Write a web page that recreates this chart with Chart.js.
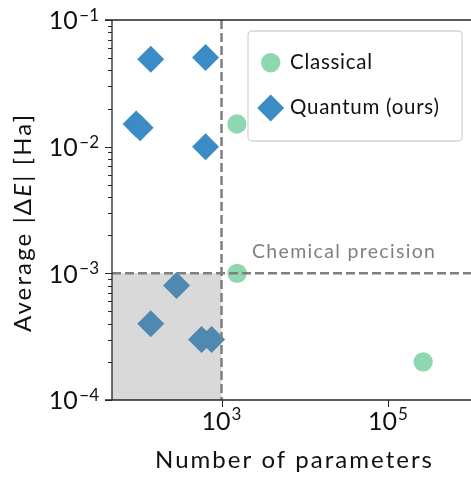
<!DOCTYPE html>
<html>
<head>
<meta charset="utf-8">
<script src="https://cdn.jsdelivr.net/npm/chart.js@4.4.1/dist/chart.umd.min.js"></script>
<style>
    html, body { margin: 0; padding: 0; background: #fff; }
    #wrap { width: 471px; height: 477px; }
</style>
</head>
<body>
<div id="wrap"><canvas id="chart" width="471" height="477"></canvas></div>
<script>
// Number of parameters vs. average |dE| (Ha)
const classicalParams = [1530, 1540, 266000];
const classicalError = [0.0151, 0.001, 0.0002];

const quantumParams = [141, 643, 94, 105, 643, 288, 141, 575, 760];
const quantumError = [0.049, 0.0505, 0.0151, 0.0141, 0.01, 0.0008, 0.0004, 0.0003, 0.0003];

const xTickValues = [1e3, 1e5];
const xTickExp = ['3', '5'];
const yTickValues = [1e-4, 1e-3, 1e-2, 1e-1];
const yTickExp = ['\u22124', '\u22123', '\u22122', '\u22121'];
const yMinorMult = [2, 3, 4, 5, 6, 7, 8, 9];

const chemicalPrecision = 1e-3;
const paramLimit = 1e3;

const FONT = 'Lato, "Noto Sans", sans-serif';
const blue = '#3a8bc6';
const green = '#8fd7b0';
const lineGrey = '#7f7f7f';
const spine = '#262626';

const toPoints = (xs, ys) => xs.map((v, i) => ({ x: v, y: ys[i] }));

// the original font is wider than Lato, so spread letters to hit the measured width
function spacingFor(ctx, text, width) {
    ctx.letterSpacing = '0px';
    const w = ctx.measureText(text).width;
    return Math.max(0, (width - w) / Math.max(1, text.length - 1));
}

function drawSpread(ctx, text, x, y, width) {
    const s = spacingFor(ctx, text, width);
    ctx.letterSpacing = s + 'px';
    ctx.fillText(text, x, y);
    ctx.letterSpacing = '0px';
}

const decorations = {
    id: 'decorations',
    afterDatasetsDraw(chart) {
        const { ctx, chartArea, scales: { x, y } } = chart;
        const xr = x.getPixelForValue(paramLimit);
        const yc = y.getPixelForValue(chemicalPrecision);
        ctx.save();
        // shaded region below chemical precision
        ctx.fillStyle = 'rgba(128,128,128,0.3)';
        ctx.fillRect(chartArea.left, yc, xr - chartArea.left, chartArea.bottom - yc);

        // dashed guide lines
        ctx.strokeStyle = lineGrey;
        ctx.lineWidth = 2.5;
        ctx.setLineDash([9, 4]);
        ctx.beginPath();
        ctx.moveTo(xr, chartArea.top);
        ctx.lineTo(xr, chartArea.bottom);
        ctx.moveTo(chartArea.left, yc);
        ctx.lineTo(chartArea.right, yc);
        ctx.stroke();
        ctx.setLineDash([]);

        ctx.fillStyle = '#808080';
        ctx.font = '19.5px ' + FONT;
        ctx.textAlign = 'left';
        ctx.textBaseline = 'alphabetic';
        drawSpread(ctx, 'Chemical precision', 252, yc - 15.5, 183);
        ctx.restore();
    },
    afterDraw(chart) {
        const { ctx, chartArea, scales: { x, y } } = chart;
        ctx.save();

        // spines: left, bottom, top
        ctx.strokeStyle = spine;
        ctx.lineWidth = 1.3;
        ctx.beginPath();
        ctx.moveTo(chartArea.left, chartArea.top);
        ctx.lineTo(chartArea.left, chartArea.bottom);
        ctx.moveTo(chartArea.left - 7, chartArea.bottom);
        ctx.lineTo(chartArea.right, chartArea.bottom);
        ctx.moveTo(chartArea.left - 7, chartArea.top);
        ctx.lineTo(chartArea.right, chartArea.top);
        ctx.stroke();

        // y ticks, major and minor
        ctx.lineWidth = 1;
        ctx.beginPath();
        yTickValues.forEach((v, i) => {
            const py = Math.round(y.getPixelForValue(v)) + 0.5;
            ctx.moveTo(chartArea.left - 7, py);
            ctx.lineTo(chartArea.left, py);
            if (i < yTickValues.length - 1) {
                yMinorMult.forEach(m => {
                    const pm = Math.round(y.getPixelForValue(v * m)) + 0.5;
                    ctx.moveTo(chartArea.left - 4, pm);
                    ctx.lineTo(chartArea.left, pm);
                });
            }
        });
        // x ticks
        xTickValues.forEach(v => {
            const px = Math.round(x.getPixelForValue(v)) + 0.5;
            ctx.moveTo(px, chartArea.bottom);
            ctx.lineTo(px, chartArea.bottom + 7);
        });
        ctx.stroke();

        // tick labels
        ctx.fillStyle = '#111';
        ctx.textBaseline = 'alphabetic';
        const big = '25px ' + FONT;
        const small = '17px ' + FONT;
        yTickValues.forEach((v, i) => {
            const py = y.getPixelForValue(v);
            ctx.font = small;
            const ew = ctx.measureText(yTickExp[i]).width;
            ctx.textAlign = 'right';
            ctx.fillText(yTickExp[i], 99, py + 1);
            ctx.font = big;
            ctx.fillText('10', 99 - ew - 1.5, py + 9.3);
        });
        xTickValues.forEach((v, i) => {
            const px = x.getPixelForValue(v);
            ctx.font = big;
            const bw = ctx.measureText('10').width;
            ctx.font = small;
            const ew = ctx.measureText(xTickExp[i]).width;
            const start = px - (bw + ew + 1) / 2;
            ctx.textAlign = 'left';
            ctx.font = big;
            ctx.fillText('10', start, 430);
            ctx.font = small;
            ctx.fillText(xTickExp[i], start + bw + 1, 420);
        });

        // axis titles
        ctx.font = '24px ' + FONT;
        ctx.textAlign = 'left';
        drawSpread(ctx, 'Number of parameters', 155, 468, 277);

        ctx.translate(31, 332);
        ctx.rotate(-Math.PI / 2);
        const parts = [
            ['Average |\u0394', '24px ' + FONT],
            ['E', 'italic 24px ' + FONT],
            ['| [Ha]', '24px ' + FONT]
        ];
        let total = 0, chars = 0;
        parts.forEach(p => { ctx.font = p[1]; total += ctx.measureText(p[0]).width; chars += p[0].length; });
        const gap = Math.max(0, (217 - total) / (chars - 1));
        ctx.letterSpacing = gap + 'px';
        let cx = 0;
        parts.forEach(p => {
            ctx.font = p[1];
            ctx.fillText(p[0], cx, 0);
            cx += ctx.measureText(p[0]).width;
        });
        ctx.letterSpacing = '0px';
        ctx.setTransform(1, 0, 0, 1, 0, 0);

        // legend
        const lx = 248, ly = 31, lw = 214, lh = 110;
        ctx.beginPath();
        ctx.roundRect(lx, ly, lw, lh, 4);
        ctx.fillStyle = 'rgba(255,255,255,0.85)';
        ctx.fill();
        ctx.strokeStyle = '#d4d4d4';
        ctx.lineWidth = 1.3;
        ctx.stroke();

        ctx.fillStyle = green;
        ctx.beginPath();
        ctx.arc(270.7, 62.7, 9.7, 0, Math.PI * 2);
        ctx.fill();

        ctx.fillStyle = blue;
        ctx.beginPath();
        ctx.moveTo(270.7, 108 - 13.5);
        ctx.lineTo(270.7 + 13.5, 108);
        ctx.lineTo(270.7, 108 + 13.5);
        ctx.lineTo(270.7 - 13.5, 108);
        ctx.closePath();
        ctx.fill();

        ctx.fillStyle = '#111';
        ctx.font = '20.5px ' + FONT;
        ctx.textAlign = 'left';
        ctx.textBaseline = 'alphabetic';
        drawSpread(ctx, 'Classical', 290, 69.3, 82);
        drawSpread(ctx, 'Quantum (ours)', 290, 114, 149);
        ctx.restore();
    }
};

new Chart(document.getElementById('chart'), {
    type: 'scatter',
    data: {
        datasets: [
            {
                label: 'Classical',
                data: toPoints(classicalParams, classicalError),
                pointStyle: 'circle',
                pointRadius: 9.7,
                pointHoverRadius: 9.7,
                backgroundColor: green,
                borderWidth: 0
            },
            {
                label: 'Quantum (ours)',
                data: toPoints(quantumParams, quantumError),
                pointStyle: 'rectRot',
                pointRadius: 13.5,
                pointHoverRadius: 13.5,
                backgroundColor: blue,
                borderWidth: 0
            }
        ]
    },
    options: {
        responsive: false,
        animation: false,
        events: [],
        layout: {
            autoPadding: false,
            padding: { left: 112, top: 20, right: 0, bottom: 77 }
        },
        plugins: {
            legend: { display: false },
            tooltip: { enabled: false }
        },
        scales: {
            x: { type: 'logarithmic', display: false, min: 48.2, max: 1e6 },
            y: { type: 'logarithmic', display: false, min: 1e-4, max: 1e-1 }
        }
    },
    plugins: [decorations]
});
</script>
</body>
</html>
